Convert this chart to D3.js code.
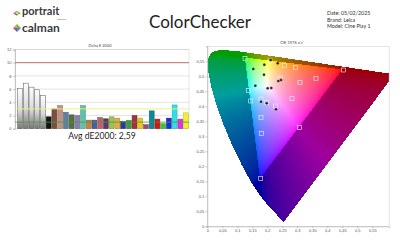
<!DOCTYPE html>
<meta charset="utf-8">
<style>
    body { margin: 0; background: #fff; }
    svg { display: block; font-family: Lato, "Open Sans", sans-serif; background: #fff; }
    .axis text { font-size: 4px; fill: #555; }
    .axis path, .axis line { stroke: #999; stroke-width: 0.5; }
</style>
<svg width="400" height="240"></svg>
<script src="https://d3js.org/d3.v7.min.js"></script>
<script>
// ---- bar chart data
var patches = ["White", "Gray 80", "Gray 65", "Gray 50", "Gray 35", "Black",
    "Dark Skin", "Light Skin", "Blue Sky", "Foliage", "Blue Flower", "Bluish Green",
    "Orange", "Purplish Blue", "Moderate Red", "Purple", "Yellow Green", "Orange Yellow",
    "Blue", "Green", "Red", "Yellow", "Magenta", "Cyan",
    "100% Red", "100% Green", "100% Blue", "100% Cyan", "100% Magenta", "100% Yellow"];
var deltaE = [6.1, 6.9, 6.3, 5.9, 5.0, 1.8,
    3.0, 3.5, 2.5, 2.1, 2.0, 3.5,
    1.3, 1.3, 1.7, 1.5, 1.8, 1.6,
    1.1, 1.25, 2.0, 1.6, 0.6, 2.7,
    1.45, 0.75, 1.6, 3.6, 1.45, 2.4];
var patchColors = [null, null, null, null, null, "#141414",
    "#7a5040", "#c09080", "#6080a0", "#587040", "#8880b0", "#60c0a8",
    "#c88040", "#4860a0", "#c06070", "#5a3a60", "#a0c050", "#e0b040",
    "#303890", "#409848", "#a83038", "#e8c828", "#a04880", "#108898",
    "#d01818", "#40c040", "#1830d0", "#30e0e8", "#e030e0", "#f0f030"];
var deTicks = [0, 2, 4, 6, 8, 10, 12];
var limitValues = [10, 3, 1];
var limitColors = ["#b0413e", "#f0f080", "#4a9a3a"];
var avgText = "Avg dE2000: 2,59";

// ---- CIE u'v' data
var uvTicksX = [0, 0.05, 0.1, 0.15, 0.2, 0.25, 0.3, 0.35, 0.4, 0.45, 0.5, 0.55];
var uvTicksY = [0, 0.05, 0.1, 0.15, 0.2, 0.25, 0.3, 0.35, 0.4, 0.45, 0.5, 0.55];
var gamutU = [0.4507, 0.125, 0.1754];
var gamutV = [0.5229, 0.5625, 0.1579];
var targetU = [0.1257, 0.209, 0.2567, 0.2933, 0.4533, 0.2423, 0.309, 0.3623, 0.1367,
    0.1447, 0.179, 0.198, 0.2823, 0.2267, 0.179, 0.3067, 0.1813, 0.178];
var targetV = [0.560, 0.551, 0.536, 0.530, 0.521, 0.4943, 0.4787, 0.4933, 0.4533,
    0.4177, 0.4243, 0.412, 0.4253, 0.401, 0.3633, 0.33, 0.31, 0.1587];
var measU = [0.1533, 0.19, 0.2347, 0.189, 0.2367, 0.2457, 0.16, 0.2013, 0.2133, 0.179, 0.198, 0.229, 0.2113];
var measV = [0.5243, 0.5387, 0.5433, 0.5053, 0.4843, 0.4877, 0.4687, 0.46, 0.461, 0.4153, 0.41, 0.39, 0.5543];

// CIE 1931 spectral locus (x, y), 380-700 nm
var locusX = [0.1741, 0.1740, 0.1738, 0.1736, 0.1733, 0.1730, 0.1726, 0.1721, 0.1714, 0.1703,
    0.1689, 0.1669, 0.1644, 0.1611, 0.1566, 0.1510, 0.1440, 0.1355, 0.1241, 0.1096,
    0.0913, 0.0687, 0.0454, 0.0235, 0.0082, 0.0039, 0.0139, 0.0389, 0.0743, 0.1142,
    0.1547, 0.1929, 0.2296, 0.2658, 0.3016, 0.3373, 0.3731, 0.4087, 0.4441, 0.4788,
    0.5125, 0.5448, 0.5752, 0.6029, 0.6270, 0.6482, 0.6658, 0.6801, 0.6915, 0.7006,
    0.7079, 0.7140, 0.7190, 0.7230, 0.7260, 0.7283, 0.7300, 0.7311, 0.7320, 0.7334,
    0.7344, 0.7347];
var locusY = [0.0050, 0.0050, 0.0049, 0.0049, 0.0048, 0.0048, 0.0048, 0.0048, 0.0051, 0.0058,
    0.0069, 0.0086, 0.0109, 0.0138, 0.0177, 0.0227, 0.0297, 0.0399, 0.0578, 0.0868,
    0.1327, 0.2007, 0.2950, 0.4127, 0.5384, 0.6548, 0.7502, 0.8120, 0.8338, 0.8262,
    0.8059, 0.7816, 0.7543, 0.7243, 0.6923, 0.6589, 0.6245, 0.5896, 0.5547, 0.5202,
    0.4866, 0.4544, 0.4242, 0.3965, 0.3725, 0.3514, 0.3340, 0.3197, 0.3083, 0.2993,
    0.2920, 0.2859, 0.2809, 0.2770, 0.2740, 0.2717, 0.2700, 0.2689, 0.2680, 0.2666,
    0.2656, 0.2653];

var svg = d3.select("svg");
var comma = function(d) { return String(d).replace(".", ","); };

// ---- header
svg.append("text").attr("x", 200).attr("y", 28).attr("text-anchor", "middle")
    .style("font-size", "17px").style("fill", "#222").text("ColorChecker");

var info = ["Date: 05/02/2025", "Brand: Leica", "Model: Cine Play 1"];
svg.selectAll(".info").data(info).enter().append("text")
    .attr("x", 327).attr("y", function(d, i) { return 15 + i * 6.7; })
    .style("font-size", "5.3px").style("fill", "#333").text(function(d) { return d; });

// logos
var logo = svg.append("g");
// portrait displays arrow
logo.append("path").attr("d", "M13,13.2 L16.5,10.8 L18,12 L15.5,13.2 Z").style("fill", "#f39a2b");
logo.append("path").attr("d", "M13,13.2 L15.5,13.2 L18,14.4 L16.5,15.6 Z").style("fill", "#7a4ea0");
logo.append("path").attr("d", "M16.5,10.8 L21,13.2 L16.5,15.6 L18,13.2 Z").style("fill", "#6cbf4b");
logo.append("text").attr("x", 22).attr("y", 15.2)
    .style("font-size", "11px").style("font-weight", 700).style("fill", "#3a3a3a")
    .text("portrait");
logo.append("text").attr("x", 57).attr("y", 19.5)
    .style("font-size", "2.6px").style("fill", "#666").text("displays");
// calman diamond
var dc = [17, 28];
[["#f39a2b", -1, -1], ["#6cbf4b", 1, -1], ["#4a8fd8", 1, 1], ["#9a4ea0", -1, 1]].forEach(function(c) {
    logo.append("path")
        .attr("d", "M" + dc[0] + "," + dc[1] + " l" + (4 * c[1]) + ",0 l" + (-4 * c[1]) + "," + (4 * c[2]) + " z")
        .style("fill", c[0]);
});
logo.append("text").attr("x", 22).attr("y", 31.5)
    .style("font-size", "12px").style("font-weight", 700).style("fill", "#3a3a3a")
    .text("calman");

// ---- bar chart
var bx = d3.scaleBand().domain(patches).range([17.3, 188.8]).paddingInner(0.14).paddingOuter(0.05);
var by = d3.scaleLinear().domain([0, 12]).range([128.7, 49.5]);

var bar = svg.append("g");
bar.append("rect").attr("x", 15).attr("y", by(12)).attr("width", 174).attr("height", by(0) - by(12))
    .style("fill", "none").style("stroke", "#ccc").style("stroke-width", 0.5);
bar.selectAll(".grid").data(deTicks.filter(function(d) { return d > 0 && limitValues.indexOf(d) < 0; }))
    .enter().append("line")
    .attr("x1", 15).attr("x2", 189).attr("y1", function(d) { return by(d); }).attr("y2", function(d) { return by(d); })
    .style("stroke", "#c8c8c8").style("stroke-width", 0.5);

var defs = svg.append("defs");
var grad = defs.append("linearGradient").attr("id", "grayGrad").attr("x1", 0).attr("x2", 0).attr("y1", 0).attr("y2", 1);
grad.append("stop").attr("offset", "0%").attr("stop-color", "#ffffff");
grad.append("stop").attr("offset", "55%").attr("stop-color", "#d8d8d8");
grad.append("stop").attr("offset", "100%").attr("stop-color", "#787878");

bar.selectAll(".bar").data(patches).enter().append("rect")
    .attr("x", function(d) { return bx(d); })
    .attr("width", bx.bandwidth())
    .attr("y", function(d, i) { return by(deltaE[i]); })
    .attr("height", function(d, i) { return by(0) - by(deltaE[i]); })
    .style("fill", function(d, i) { return patchColors[i] || "url(#grayGrad)"; })
    .style("stroke", function(d, i) { return patchColors[i] ? d3.color(patchColors[i]).darker(0.8) : "#555"; })
    .style("stroke-width", 0.5);

bar.selectAll(".limit").data(limitValues).enter().append("line")
    .attr("x1", 15).attr("x2", 189)
    .attr("y1", function(d) { return by(d); }).attr("y2", function(d) { return by(d); })
    .style("stroke", function(d, i) { return limitColors[i]; })
    .style("stroke-width", function(d, i) { return i == 1 ? 1.4 : 0.8; })
    .style("opacity", function(d, i) { return i == 1 ? 0.75 : 1; });

bar.append("g").attr("class", "axis").attr("transform", "translate(15,0)")
    .call(d3.axisLeft(by).tickValues(deTicks).tickSize(2).tickPadding(1.5));
bar.append("text").attr("x", 100).attr("y", 46.5).attr("text-anchor", "middle")
    .style("font-size", "4px").style("fill", "#444").text("Delta E 2000");
bar.append("text").attr("x", 102).attr("y", 139).attr("text-anchor", "middle")
    .style("font-size", "8.6px").style("fill", "#222").text(avgText);

// ---- CIE u'v' diagram
var cx = d3.scaleLinear().domain([0, 0.606]).range([207.3, 389.1]);
var cy = d3.scaleLinear().domain([0, 0.6]).range([226.3, 46.3]);

var locus = locusX.map(function(x, i) {
    var y = locusY[i], d = -2 * x + 12 * y + 3;
    return [4 * x / d, 9 * y / d];
});
var tri = gamutU.map(function(u, i) { return [u, gamutV[i]]; });

var x0 = 207, y0 = 46, w = 183, h = 181;
var canvas = document.createElement("canvas");
canvas.width = w; canvas.height = h;
var ctx = canvas.getContext("2d");
var img = ctx.createImageData(w, h);
function gam(c) { return c <= 0.0031308 ? 12.92 * c : 1.055 * Math.pow(c, 1 / 2.4) - 0.055; }
for (var j = 0; j < h; j++) {
    for (var i = 0; i < w; i++) {
        var u = cx.invert(x0 + i + 0.5), v = cy.invert(y0 + j + 0.5);
        if (u > 0.606 || v > 0.6) continue;
        if (!d3.polygonContains(locus, [u, v])) continue;
        var dd = 6 * u - 16 * v + 12, x = 9 * u / dd, y = 4 * v / dd;
        var X = x / y, Y = 1, Z = (1 - x - y) / y;
        var r = 3.2406 * X - 1.5372 * Y - 0.4986 * Z,
            g = -0.9689 * X + 1.8758 * Y + 0.0415 * Z,
            b = 0.0557 * X - 0.2040 * Y + 1.0570 * Z;
        var inside = d3.polygonContains(tri, [u, v]);
        r = Math.max(r, 0); g = Math.max(g, 0); b = Math.max(b, 0);
        var m = Math.max(r, g, b);
        var k = inside ? 1 : 0.62;
        var p = (j * w + i) * 4;
        img.data[p] = 255 * k * gam(r / m);
        img.data[p + 1] = 255 * k * gam(g / m);
        img.data[p + 2] = 255 * k * gam(b / m);
        img.data[p + 3] = 255;
    }
}
ctx.putImageData(img, 0, 0);

var cie = svg.append("g");
cie.append("image").attr("x", x0).attr("y", y0).attr("width", w).attr("height", h)
    .attr("href", canvas.toDataURL());
cie.append("rect").attr("x", cx(0)).attr("y", cy(0.6)).attr("width", cx(0.606) - cx(0)).attr("height", cy(0) - cy(0.6))
    .style("fill", "none").style("stroke", "#ccc").style("stroke-width", 0.5);
cie.append("g").attr("class", "axis").attr("transform", "translate(0," + cy(0) + ")")
    .call(d3.axisBottom(cx).tickValues(uvTicksX).tickFormat(comma).tickSize(2).tickPadding(1));
cie.append("g").attr("class", "axis").attr("transform", "translate(" + cx(0) + ",0)")
    .call(d3.axisLeft(cy).tickValues(uvTicksY).tickFormat(comma).tickSize(2).tickPadding(1));
cie.append("text").attr("x", 292).attr("y", 44).attr("text-anchor", "middle")
    .style("font-size", "4px").style("fill", "#444").text("CIE 1976 u'v'");

cie.selectAll(".target").data(targetU).enter().append("rect")
    .attr("x", function(d) { return cx(d) - 2; })
    .attr("y", function(d, i) { return cy(targetV[i]) - 2; })
    .attr("width", 4).attr("height", 4)
    .style("fill", "none").style("stroke", "#f4f4f4").style("stroke-width", 0.6);
cie.selectAll(".meas").data(measU).enter().append("circle")
    .attr("cx", function(d) { return cx(d); })
    .attr("cy", function(d, i) { return cy(measV[i]); })
    .attr("r", 1.3)
    .style("fill", "#222").style("stroke", "#888").style("stroke-width", 0.3);
</script>
